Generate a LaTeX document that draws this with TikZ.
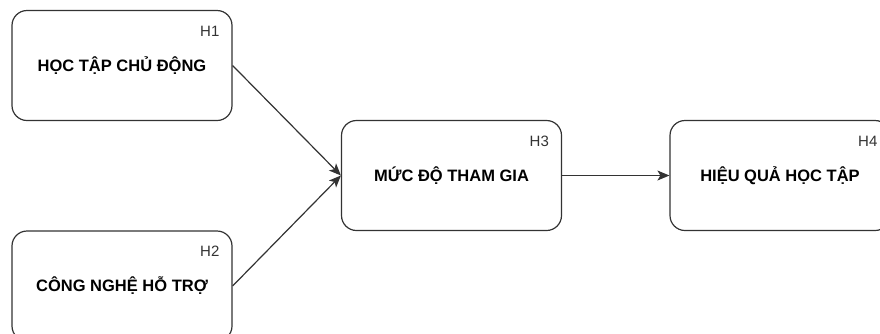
\documentclass[tikz,border=0pt]{standalone}
\usepackage{fontspec}
\setmainfont{Liberation Sans}
\usetikzlibrary{arrows.meta}
\usetikzlibrary{positioning}
\definecolor{MyLine}{rgb}{0.2,0.2,0.2}
\tikzset{
    factor/.style={
      rectangle,
      rounded corners=15pt,
      minimum width=220pt,
      minimum height=110pt,
      draw=MyLine,
      line width=1.2pt,
      fill=white,
      text=black,
      font=\fontsize{16.5}{19}\selectfont\bfseries,
      inner sep=2pt
    },
    hypo/.style={
      anchor=east,
      text=MyLine,
      font=\fontsize{15}{17}\selectfont,
      inner sep=0pt
    },
    link/.style={
      -{Stealth[length=12pt,width=10pt,inset=3pt]},
      draw=MyLine,
      line width=1.2pt
    },
}

\begin{document}
\begin{tikzpicture}[x=1pt,y=-1pt]
    \clip (0,0) rectangle (880,333);

    \draw (122,65.5) node[factor] (F1) {HỌC TẬP CHỦ ĐỘNG};
    \draw (122,286) node[factor] (F2) {CÔNG NGHỆ HỖ TRỢ};
    \draw (451.5,175.5) node[factor] (F3) {MỨC ĐỘ THAM GIA};
    \draw (780,175.5) node[factor] (F4) {HIỆU QUẢ HỌC TẬP};

    \node[hypo] at ([xshift=-13pt,yshift=-21pt]F1.north east) {H1};
    \node[hypo] at ([xshift=-13pt,yshift=-21pt]F2.north east) {H2};
    \node[hypo] at ([xshift=-13pt,yshift=-21pt]F3.north east) {H3};
    \node[hypo] at ([xshift=-13pt,yshift=-21pt]F4.north east) {H4};

    \path (F1.east) edge[link] (F3.west);
    \path (F2.east) edge[link] (F3.west);
    \path (F3.east) edge[link] (F4.west);
  \end{tikzpicture}
\end{document}
